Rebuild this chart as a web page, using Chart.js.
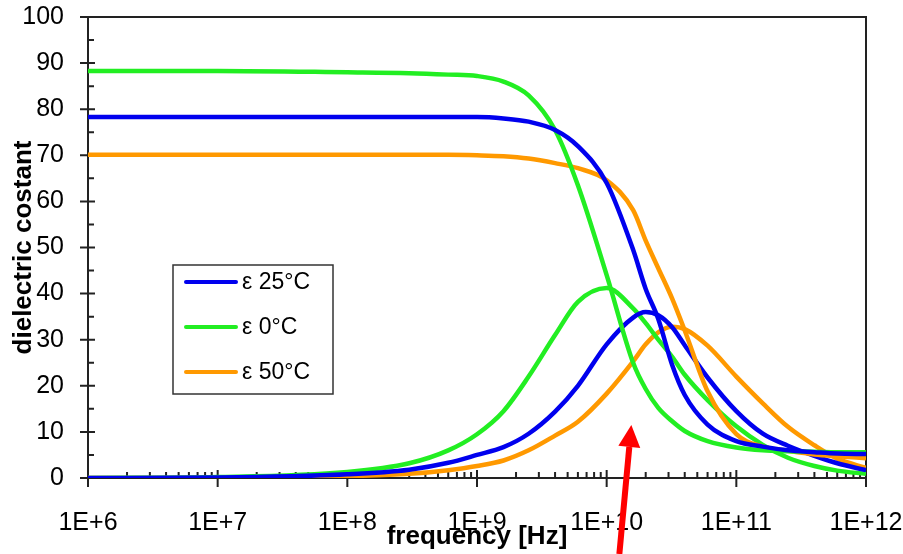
<!DOCTYPE html>
<html>
<head>
<meta charset="utf-8">
<script src="https://cdn.jsdelivr.net/npm/chart.js@4.4.1/dist/chart.umd.min.js"></script>
<style>
  body { margin: 0; background: #fff; }
</style>
</head>
<body>
<canvas id="chart" width="903" height="554"></canvas>
<script>
// frequency points [Hz]
const freq = [1e6, 1e7, 1e8, 3e8, 6e8, 1e9, 1.6e9, 2.5e9, 4e9, 6e9, 1e10, 1.6e10, 2e10, 2.5e10, 3.2e10, 4e10, 6e10, 1e11, 1.6e11, 2.5e11, 4e11, 6e11, 1e12]

// real part (eps') and imaginary part (eps'') for each temperature
const real25 = [78.3, 78.3, 78.3, 78.3, 78.3, 78.3, 78.0, 77.3, 75.5, 72.0, 64.0, 49.5, 41.0, 34.5, 24.5, 18.0, 11.6, 8.0, 6.8, 6.0, 5.6, 5.3, 5.2]
const imag25 = [0, 0.1, 0.8, 1.8, 3.3, 5.0, 6.7, 9.6, 14.4, 20.0, 29.0, 34.8, 36.0, 35.3, 32.7, 28.8, 21.8, 14.5, 9.6, 7.0, 4.8, 3.2, 1.7]
const real0 = [88.3, 88.3, 88.0, 87.8, 87.5, 87.2, 86.0, 83.0, 75.5, 63.5, 44.0, 25.0, 19.3, 15.2, 12.3, 10.2, 8.0, 6.6, 6.0, 5.8, 5.7, 5.6, 5.6]
const imag0 = [0, 0.2, 1.3, 3.2, 6.0, 9.5, 14.5, 22.0, 31.0, 38.2, 41.2, 36.8, 33.6, 30.0, 26.3, 22.4, 16.9, 11.2, 7.2, 4.4, 2.6, 1.6, 0.9]
const real50 = [70.1, 70.1, 70.1, 70.1, 70.1, 70.0, 69.8, 69.3, 68.3, 67.2, 64.6, 58.1, 51.5, 45.5, 38.9, 32.0, 18.8, 9.5, 6.8, 5.9, 5.1, 4.7, 4.3]
const imag50 = [0, 0, 0.4, 0.9, 1.7, 2.6, 3.8, 6.0, 9.2, 12.2, 18.3, 25.3, 29.0, 31.6, 32.8, 32.3, 28.7, 22.0, 16.2, 11.1, 7.1, 4.2, 2.2]

const seriesLabels = ['ε 25°C', 'ε 0°C', 'ε 50°C']
const seriesColors = ['#0000ee', '#22ee22', '#ff9900']

const xTicks = [1e6, 1e7, 1e8, 1e9, 1e10, 1e11, 1e12]
const yTicks = [0, 10, 20, 30, 40, 50, 60, 70, 80, 90, 100]

// where the red arrow points (frequency, value)
const arrowTip = [1.55e10, 11.5]

function pts(vals) {
    return freq.map((f, i) => ({x: f, y: vals[i]}))
}

function line(label, vals, color) {
    return {
        label: label,
        data: pts(vals),
        borderColor: color,
        backgroundColor: color,
        borderWidth: 4.5,
        pointRadius: 0,
        fill: false,
        cubicInterpolationMode: 'monotone'
    }
}

const frame = {
    id: 'frame',
    beforeDatasetsDraw(chart) {
        const {ctx, chartArea: a, scales: {x, y}} = chart
        ctx.save()
        ctx.strokeStyle = '#222'
        ctx.lineWidth = 2
        ctx.strokeRect(a.left, a.top, a.right - a.left, a.bottom - a.top)
        ctx.beginPath()
        yTicks.forEach(v => {
            const p = y.getPixelForValue(v)
            ctx.moveTo(a.left - 8, p); ctx.lineTo(a.left + 7, p)
        })
        for (let v = 5; v < 100; v += 10) {
            const p = y.getPixelForValue(v)
            ctx.moveTo(a.left, p); ctx.lineTo(a.left + 6, p)
        }
        xTicks.forEach((d, i) => {
            const p = x.getPixelForValue(d)
            ctx.moveTo(p, a.bottom - 8); ctx.lineTo(p, a.bottom + 9)
            if (i == xTicks.length - 1) return
            for (let k = 2; k < 10; k++) {
                const q = x.getPixelForValue(d * k)
                ctx.moveTo(q, a.bottom - 6); ctx.lineTo(q, a.bottom)
            }
        })
        ctx.stroke()
        ctx.restore()
    },
    afterDraw(chart) {
        const {ctx, scales: {x, y}} = chart
        ctx.save()
        // legend box
        ctx.fillStyle = '#fff'
        ctx.fillRect(173, 265, 160, 129)
        ctx.strokeStyle = '#333'
        ctx.lineWidth = 1.5
        ctx.strokeRect(173, 265, 160, 129)
        ctx.font = '23px "Liberation Sans", Arial, sans-serif'
        ctx.textBaseline = 'middle'
        seriesLabels.forEach((t, i) => {
            const ly = 282 + i * 45
            ctx.strokeStyle = seriesColors[i]
            ctx.lineWidth = 4
            ctx.lineCap = 'round'
            ctx.beginPath(); ctx.moveTo(186, ly); ctx.lineTo(236, ly); ctx.stroke()
            ctx.fillStyle = '#000'
            ctx.fillText(t, 242, ly + 1)
        })
        // red arrow
        const tx = x.getPixelForValue(arrowTip[0])
        const ty = y.getPixelForValue(arrowTip[1])
        const bx = tx - 12, by = chart.height
        const ang = Math.atan2(ty - by, tx - bx)
        const hx = tx - 22 * Math.cos(ang), hy = ty - 22 * Math.sin(ang)
        ctx.strokeStyle = '#ff0000'
        ctx.fillStyle = '#ff0000'
        ctx.lineWidth = 6
        ctx.lineCap = 'butt'
        ctx.beginPath(); ctx.moveTo(bx, by); ctx.lineTo(hx, hy); ctx.stroke()
        const nx = -Math.sin(ang) * 11, ny = Math.cos(ang) * 11
        ctx.beginPath()
        ctx.moveTo(tx, ty)
        ctx.lineTo(hx + nx, hy + ny)
        ctx.lineTo(hx - nx, hy - ny)
        ctx.closePath()
        ctx.fill()
        ctx.restore()
    }
}

Chart.defaults.font.family = '"Liberation Sans", Arial, sans-serif'
Chart.defaults.color = '#000'

const data = {
    datasets: [
        line(seriesLabels[0], real25, seriesColors[0]),
        line(seriesLabels[1], real0, seriesColors[1]),
        line(seriesLabels[2], real50, seriesColors[2]),
        line("ε'' 25°C", imag25, seriesColors[0]),
        line("ε'' 0°C", imag0, seriesColors[1]),
        line("ε'' 50°C", imag50, seriesColors[2])
    ]
}

// invisible tick marks only give room for the labels
const hiddenGrid = len => ({display: true, drawOnChartArea: false, drawTicks: true, tickLength: len, color: 'rgba(0,0,0,0)'})

const config = {
    type: 'line',
    data: data,
    plugins: [frame],
    options: {
        responsive: false,
        animation: false,
        layout: {padding: {left: 0, top: 17, right: 37, bottom: 0}},
        plugins: {legend: {display: false}, tooltip: {enabled: false}},
        scales: {
            x: {
                type: 'logarithmic',
                min: 1e6,
                max: 1e12,
                afterFit: s => { s.height = 76 },
                afterBuildTicks: s => { s.ticks = xTicks.map(v => ({value: v})) },
                grid: hiddenGrid(30),
                border: {display: false},
                ticks: {
                    padding: 0,
                    maxRotation: 0,
                    autoSkip: false,
                    font: {size: 25},
                    callback: v => '1E+' + Math.round(Math.log10(v))
                },
                title: {display: true, text: 'frequency [Hz]', font: {size: 26, weight: 'bold'}, padding: {top: 0, bottom: 2}}
            },
            y: {
                min: 0,
                max: 100,
                afterFit: s => { s.width = 88 },
                afterBuildTicks: s => { s.ticks = yTicks.map(v => ({value: v})) },
                grid: hiddenGrid(24),
                border: {display: false},
                ticks: {padding: 0, font: {size: 25}},
                title: {display: true, text: 'dielectric costant', font: {size: 26, weight: 'bold'}, padding: {top: 8, bottom: 0}}
            }
        }
    }
}

let ctx = document.getElementById('chart').getContext('2d')
new Chart(ctx, config)
</script>
</body>
</html>
